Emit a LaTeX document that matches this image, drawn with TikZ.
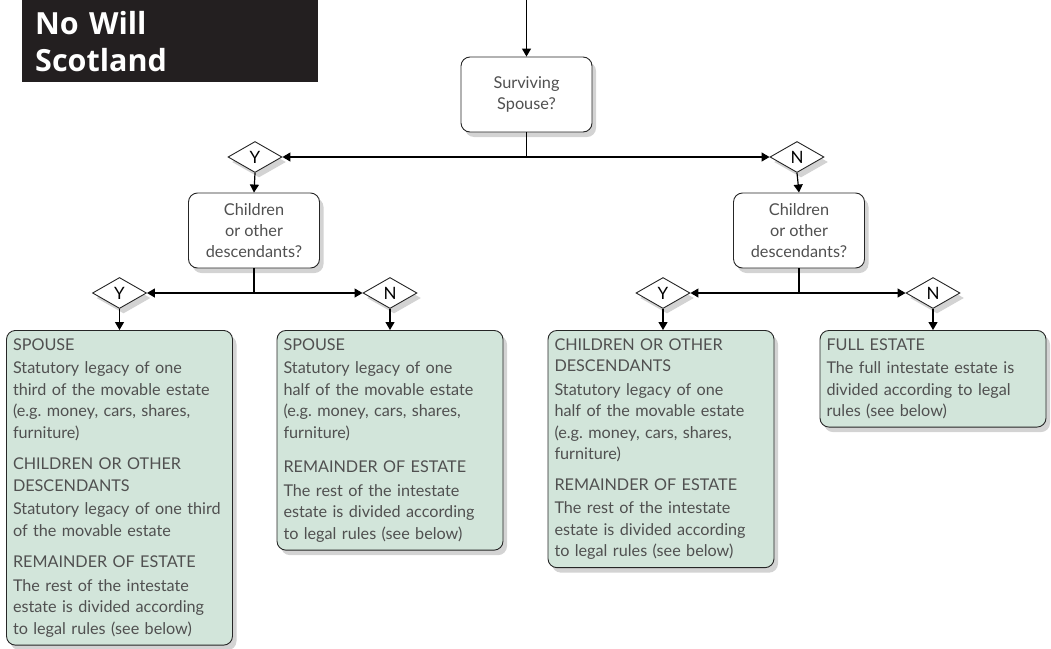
\documentclass[tikz,border=0pt]{standalone}
\usepackage{fontspec}
\setmainfont{Lato}
\newfontfamily\titlefont{Open Sans}
\frenchspacing
\usetikzlibrary{shapes.geometric,arrows.meta,shadows,positioning}
\definecolor{boxgreen}{RGB}{210,229,218}
\definecolor{textgrey}{RGB}{80,80,80}
\definecolor{titleblack}{RGB}{35,31,32}
\tikzset{
  shade/.style={drop shadow={opacity=0.35,shadow xshift=4pt,shadow yshift=-5pt}},
  question/.style={draw=black!85,fill=white,rounded corners=9pt,line width=0.9pt,
    align=center,text=textgrey,minimum width=131pt,minimum height=75pt,inner sep=2pt,
    font=\fontsize{16.3}{21}\selectfont,shade},
  outcome/.style={draw=black!85,fill=boxgreen,rounded corners=9pt,line width=0.9pt,
    align=left,text=textgrey,anchor=north,text width=213pt,inner xsep=6.5pt,inner ysep=8pt,
    font=\fontsize{16.2}{21.5}\selectfont,shade},
  yesno/.style={diamond,draw=black!85,fill=white,aspect=1.75,line width=0.9pt,
    minimum width=54pt,minimum height=31pt,inner sep=0pt,
    font=\fontsize{17}{17}\selectfont,shade},
  flow/.style={line width=1.2pt,-{Triangle[width=9pt,length=8pt]}},
}
\newcommand{\head}[1]{#1\\[2pt]}
\begin{document}
\begin{tikzpicture}[x=1pt,y=-1pt]
\useasboundingbox (0,0) rectangle (1051,648);
% title block
\node[fill=titleblack,text=white,anchor=north west,minimum width=296pt,minimum height=82pt,
  text width=270pt,inner xsep=13pt,align=left,font=\titlefont\bfseries\fontsize{30.5}{37}\selectfont]
  (title) at (22,0) {No Will\\Scotland};
% questions
\coordinate (start) at (526.5,0);
\node[question] (spouse) at (526.5,94.5) {Surviving\\Spouse?};
\node[yesno] (y0) at (255,157) {Y};
\node[yesno] (n0) at (797,157) {N};
\node[question] (kidsA) at (254,230.5) {Children\\or other\\descendants?};
\node[question] (kidsB) at (799,230.5) {Children\\or other\\descendants?};
\node[yesno] (yA) at (119.5,293) {Y};
\node[yesno] (nA) at (390,293) {N};
\node[yesno] (yB) at (663,293) {Y};
\node[yesno] (nB) at (933,293) {N};
% outcomes
\node[outcome] (outA) at (119.5,330) {\head{SPOUSE}Statutory legacy of one\\third of the movable estate\\(e.g. money, cars, shares,\\furniture)\\[10pt]
  \head{CHILDREN OR OTHER\\DESCENDANTS}Statutory legacy of one third\\of the movable estate\\[10pt]
  \head{REMAINDER OF ESTATE}The rest of the intestate\\estate is divided according\\to legal rules (see below)};
\node[outcome] (outB) at (390,330) {\head{SPOUSE}Statutory legacy of one\\half of the movable estate\\(e.g. money, cars, shares,\\furniture)\\[13pt]
  \head{REMAINDER OF ESTATE}The rest of the intestate\\estate is divided according\\to legal rules (see below)};
\node[outcome] (outC) at (661,330) {CHILDREN OR OTHER\\\head{DESCENDANTS}Statutory legacy of one\\half of the movable estate\\(e.g. money, cars, shares,\\furniture)\\[9pt]
  \head{REMAINDER OF ESTATE}The rest of the intestate\\estate is divided according\\to legal rules (see below)};
\node[outcome] (outD) at (933,330) {\head{FULL ESTATE}The full intestate estate is\\divided according to legal\\rules (see below)};
% connectors
\draw[flow] (start) -- (spouse.north);
\draw[flow] (spouse.south) |- (y0.east);
\draw[flow] (spouse.south) |- (n0.west);
\draw[flow] (y0.south) -- (kidsA.north);
\draw[flow] (n0.south) -- (kidsB.north);
\draw[flow] (kidsA.south) |- (yA.east);
\draw[flow] (kidsA.south) |- (nA.west);
\draw[flow] (kidsB.south) |- (yB.east);
\draw[flow] (kidsB.south) |- (nB.west);
\draw[flow] (yA.south) -- (yA.south |- outA.north);
\draw[flow] (nA.south) -- (nA.south |- outB.north);
\draw[flow] (yB.south) -- (yB.south |- outC.north);
\draw[flow] (nB.south) -- (nB.south |- outD.north);
\end{tikzpicture}
\end{document}
